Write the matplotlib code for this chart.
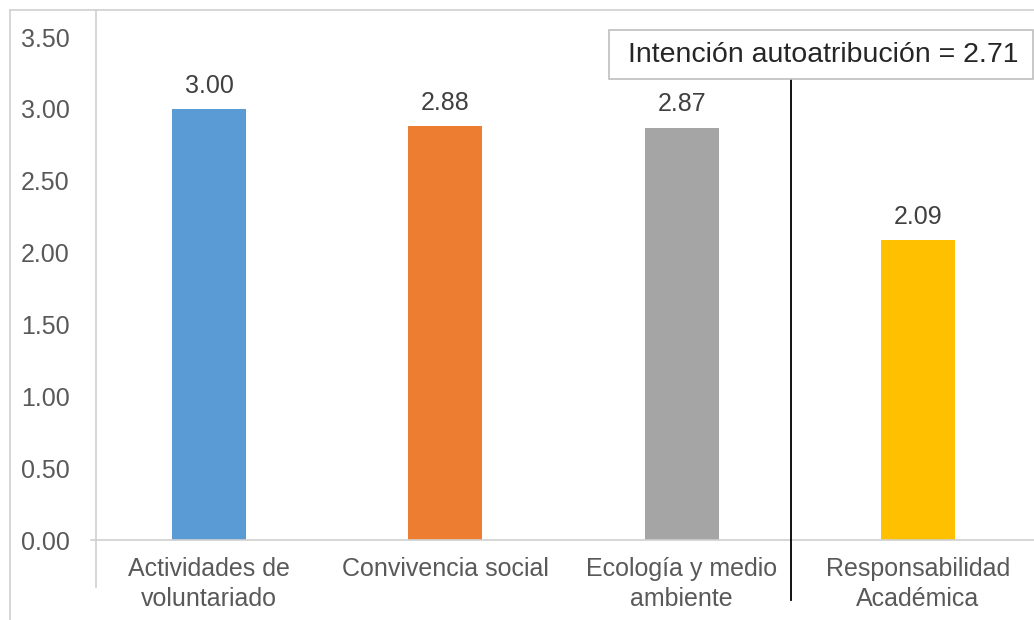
import matplotlib
matplotlib.use("Agg")
import matplotlib.pyplot as plt
from matplotlib.lines import Line2D
from matplotlib.patches import Rectangle

plt.rcParams['font.family'] = ['Liberation Sans', 'DejaVu Sans']

# --- datos ---
categorias = ['Actividades de\nvoluntariado', 'Convivencia social',
              'Ecología y medio\nambiente', 'Responsabilidad\nAcadémica']
valores = [3.00, 2.88, 2.87, 2.09]
colores = ['#5B9BD5', '#ED7D31', '#A5A5A5', '#FFC000']
yticks = [0.0, 0.5, 1.0, 1.5, 2.0, 2.5, 3.0, 3.5]
texto_intencion = 'Intención autoatribución = 2.71'
linea_x = 2.463  # separador entre grupos

W, H = 1034, 620
fig = plt.figure(figsize=(W / 100, H / 100), dpi=100)
ax = fig.add_axes([96 / W, (H - 540) / H, 944 / W, 530 / H])

x = list(range(len(valores)))
ax.bar(x, valores, width=0.313, color=colores, zorder=2)

for xi, v in zip(x, valores):
    ax.annotate(f'{v:.2f}', (xi, v), xytext=(0, 8), textcoords='offset points',
                ha='center', va='bottom', fontsize=18, color='#404040')

ax.set_xlim(-0.478, 3.516)
ax.set_ylim(0, 3.688)
ax.set_yticks(yticks)
ax.set_yticklabels([f'{t:.2f}' for t in yticks])
ax.set_xticks(x)
ax.set_xticklabels(categorias, linespacing=1.35)
ax.tick_params(axis='y', length=0, pad=19, labelsize=18, labelcolor='#595959')
ax.tick_params(axis='x', length=0, pad=12, labelsize=18, labelcolor='#595959')

for s in ['top', 'right', 'bottom', 'left']:
    ax.spines[s].set_visible(False)

# ejes grises (el vertical baja por debajo de la base, como en Excel)
gris = '#d0d0d0'
ax.add_line(Line2D([0, 0], [-47 / 530, 1], transform=ax.transAxes,
                   color=gris, lw=1.2, clip_on=False))
ax.add_line(Line2D([-5 / 944, 1], [0, 0], transform=ax.transAxes,
                   color=gris, lw=1.2, clip_on=False))

# línea vertical negra
ax.plot([linea_x, linea_x], [-60 / 143.7, (540 - 80) / 143.7], color='black',
        lw=1.3, clip_on=False, zorder=3)

# cuadro de texto
fig.patches.append(Rectangle((609 / W, (H - 79) / H), 424 / W, 49 / H,
                             transform=fig.transFigure, facecolor='white',
                             edgecolor='#bfbfbf', lw=1.2, zorder=5))
fig.text(628 / W, (H - 55) / H, texto_intencion, ha='left', va='center',
         fontsize=20.5, color='#262626', zorder=6)

# marco exterior
fig.add_artist(Line2D([10 / W, 10 / W], [0, (H - 10) / H], transform=fig.transFigure,
                      color=gris, lw=1.2))
fig.add_artist(Line2D([10 / W, 1], [(H - 10) / H, (H - 10) / H], transform=fig.transFigure,
                      color=gris, lw=1.2))

fig.savefig('out.png', dpi=100)
